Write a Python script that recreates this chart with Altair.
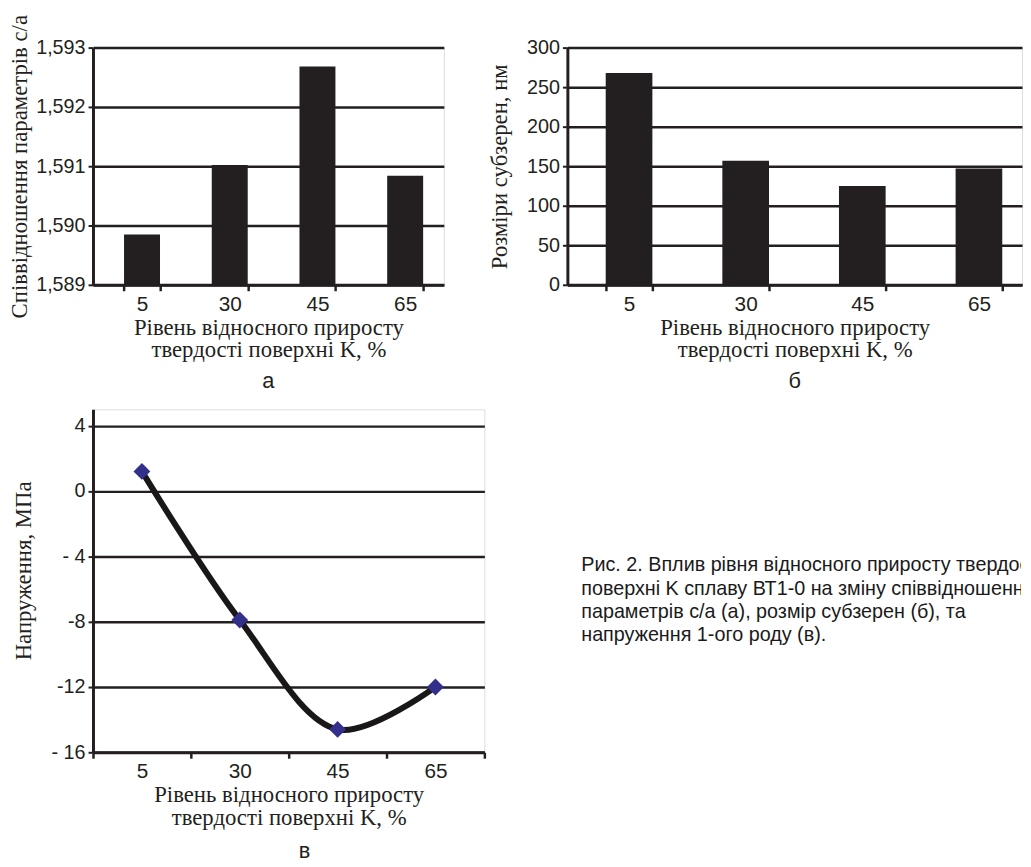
import altair as alt
import pandas as pd

# ---------------- data ----------------
k_levels = ["5", "30", "45", "65"]
ca_ratio = [1.58985, 1.59102, 1.59268, 1.59084]
subgrain_nm = [268, 157, 125, 147]
stress_mpa = [1.2, -7.9, -14.6, -12.0]

ca_ticks = [1.589, 1.590, 1.591, 1.592, 1.593]
ca_tick_labels = ["1,589", "1,590", "1,591", "1,592", "1,593"]
size_ticks = [0, 50, 100, 150, 200, 250, 300]
stress_ticks = [4, 0, -4, -8, -12, -16]
stress_tick_labels = ["4", "0", "- 4", "-8", "-12", "- 16"]

x_title = ["Рівень відносного приросту", "твердості поверхні K, %"]
caption_lines = [
    "Рис. 2. Вплив рівня відносного приросту твердості",
    "поверхні K сплаву ВТ1-0 на зміну співвідношення",
    "параметрів с/а (а), розмір субзерен (б), та",
    "напруження 1-ого роду (в).",
]

SANS = "Liberation Sans"
SERIF = "Liberation Serif"
INK = "#231f20"


def label_expr(values, labels):
    expr = "''"
    for v, l in zip(values[::-1], labels[::-1]):
        expr = f"abs(datum.value - ({v})) < 1e-7 ? '{l}' : ({expr})"
    return expr


def x_axis():
    return alt.Axis(
        title=x_title, titleFont=SERIF, titleFontSize=23, titleFontWeight="normal",
        titleColor=INK, titlePadding=2, titleLineHeight=23,
        labelFont=SANS, labelFontSize=21, labelColor=INK, labelAngle=0, labelPadding=3,
        tickBand="extent", ticks=True, tickSize=6, tickWidth=2.5, tickColor=INK,
        domain=True, domainColor=INK, domainWidth=3, grid=False,
    )


def y_axis(title, values, title_x, labels=None, title_y=None, font_size=20):
    kw = dict(
        title=title, values=values, titleFont=SERIF, titleFontSize=23,
        titleFontWeight="normal", titleColor=INK, titleX=title_x,
        labelFont=SANS, labelFontSize=font_size, labelColor=INK, labelPadding=3,
        ticks=True, tickSize=5, tickWidth=2, tickColor=INK,
        domain=True, domainColor=INK, domainWidth=3,
        grid=True, gridColor=INK, gridWidth=2.5,
    )
    if labels is not None:
        kw["labelExpr"] = label_expr(values, labels)
    if title_y is not None:
        kw["titleY"] = title_y
    return alt.Axis(**kw)


def sub_title(t, dx=0, offset=5):
    return alt.TitleParams(t, orient="bottom", font=SANS, fontSize=22,
                           fontWeight="normal", color=INK, offset=offset, dx=dx)


# ---------------- panel а ----------------
df_a = pd.DataFrame({"k": k_levels, "v": ca_ratio})
panel_a = alt.Chart(df_a, title=sub_title("а", offset=9)).mark_bar(color=INK).encode(
    x=alt.X("k:N", sort=None, axis=x_axis(),
            scale=alt.Scale(paddingInner=0.59, paddingOuter=0.295, align=0.6)),
    y=alt.Y("v:Q", axis=y_axis("Співвідношення параметрів с/а", ca_ticks, -62,
                               labels=ca_tick_labels),
            scale=alt.Scale(domain=[1.589, 1.593], zero=False, nice=False)),
    y2=alt.datum(1.589),
).properties(width=355, height=240)

# ---------------- panel б ----------------
df_b = pd.DataFrame({"k": k_levels, "v": subgrain_nm})
panel_b = alt.Chart(df_b, title=sub_title("б", offset=9)).mark_bar(color=INK).encode(
    x=alt.X("k:N", sort=None, axis=x_axis(),
            scale=alt.Scale(paddingInner=0.6, paddingOuter=0.249, align=0.66)),
    y=alt.Y("v:Q", axis=y_axis("Розміри субзерен, нм", size_ticks, -57),
            scale=alt.Scale(domain=[0, 300], nice=False)),
).properties(width=460, height=240)

# ---------------- panel в ----------------
df_c = pd.DataFrame({"k": k_levels, "v": stress_mpa})
xc = alt.X("k:N", sort=None, axis=x_axis(), scale=alt.Scale(paddingInner=0, paddingOuter=0))
yc = alt.Y("v:Q", axis=y_axis("Напруження, МПа", stress_ticks, -58,
                              labels=stress_tick_labels, title_y=163, font_size=20),
           scale=alt.Scale(domain=[-16, 5], nice=False, zero=False))
line_c = alt.Chart(df_c).mark_line(interpolate="catmull-rom", strokeWidth=6,
                                   color="#1a1718").encode(x=xc, y=yc)
pts_c = alt.Chart(df_c).mark_point(shape="diamond", filled=True, size=290,
                                   color="#33308c", opacity=1).encode(x=xc, y=yc)
panel_c = alt.layer(line_c, pts_c, title=sub_title("в", dx=16, offset=12)).properties(
    width=396, height=347)

# ---------------- caption ----------------
cap_df = pd.DataFrame({"text": ["\n".join(caption_lines)]})
caption = alt.Chart(cap_df).mark_text(
    align="left", baseline="top", font=SANS, fontSize=20, color="#1a1a1a",
    lineBreak="\n", lineHeight=23.5, clip=True,
).encode(text="text:N", x=alt.value(0), y=alt.value(148)).properties(
    width=445, height=347, view=alt.ViewBackground(stroke="transparent", strokeWidth=0))

top = alt.hconcat(panel_a, panel_b, spacing=125, bounds="flush")
bottom = alt.hconcat(panel_c, caption, spacing=98, bounds="flush")

chart = alt.vconcat(top, bottom, spacing=16).properties(padding=0).configure_view(
    stroke="transparent", strokeWidth=0
).configure(background="white")

chart.save("out.html", embed_options={"renderer": "svg", "actions": False})
